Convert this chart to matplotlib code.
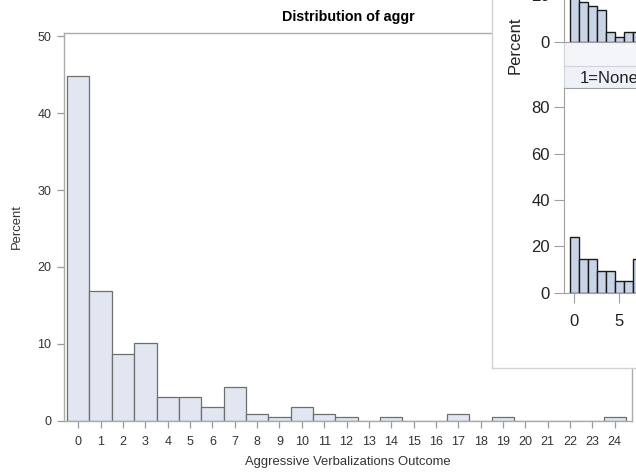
import matplotlib
matplotlib.use("Agg")
import matplotlib.pyplot as plt

plt.rcParams['font.family'] = ['Liberation Sans', 'DejaVu Sans']

# ---------------- data ----------------
aggr_values = list(range(25))
aggr_percent = [44.8, 16.9, 8.7, 10.1, 3.0, 3.0, 1.7, 4.4, 0.9, 0.4,
                1.7, 0.9, 0.4, 0.0, 0.4, 0.0, 0.0, 0.9, 0.0, 0.4,
                0.0, 0.0, 0.0, 0.0, 0.4]
x_tick_labels = [str(v) for v in aggr_values]
y_ticks_main = [0, 10, 20, 30, 40, 50]

# overlapping window (panel histogram, partly visible)
panel_values = [0, 1, 2, 3, 4, 5, 6, 7]
panel_top_percent = [25.0, 17.1, 15.5, 13.8, 4.1, 1.9, 4.1, 4.1]
panel_bottom_percent = [24.2, 14.4, 14.4, 9.5, 9.5, 4.9, 4.9, 14.4]
panel_label = "1=None"

W, H = 636, 476
fig = plt.figure(figsize=(W / 100, H / 100), dpi=100)


def box(l, t, r, b):
    return [l / W, 1 - b / H, (r - l) / W, (b - t) / H]


# ---------------- main chart ----------------
ax = fig.add_axes(box(64, 32.5, 632, 420.5))
ax.set_zorder(0)
ax.bar(aggr_values, aggr_percent, width=1.0, color='#E1E6F0',
       edgecolor='#6E6E6E', linewidth=0.9)
ax.set_xlim(-0.64, 24.77)
ax.set_ylim(0, 50.5)
ax.set_xticks(aggr_values)
ax.set_xticklabels(x_tick_labels)
ax.set_yticks(y_ticks_main)
for s in ax.spines.values():
    s.set_color('#ABABAB')
    s.set_linewidth(1.0)
ax.tick_params(axis='both', colors='#9A9A9A', length=5, width=0.9,
               labelcolor='#333333', labelsize=9)
ax.tick_params(axis='x', pad=6)
ax.tick_params(axis='y', pad=4)
ax.set_title('Distribution of aggr', fontsize=10.3, fontweight='bold', pad=8)
ax.set_xlabel('Aggressive Verbalizations Outcome', fontsize=9.4,
              color='#333333', labelpad=6)
ax.set_ylabel('Percent', fontsize=9.4, color='#333333')
ax.yaxis.set_label_coords((23 - 64) / 568, 0.5)

# ---------------- overlapping window ----------------
ov = fig.add_axes(box(491.5, -10, 660, 368))
ov.set_zorder(5)
ov.set_facecolor('white')
ov.set_xticks([])
ov.set_yticks([])
for k in ['top', 'right']:
    ov.spines[k].set_visible(False)
for k in ['left', 'bottom']:
    ov.spines[k].set_color('#D2D2D2')
    ov.spines[k].set_linewidth(1.0)

# gray band and strip header
band = fig.add_axes(box(564, 41.7, 660, 65.7))
band.set_zorder(6)
band.set_facecolor('#F3F5F9')
band.set_xticks([]); band.set_yticks([])
for s in band.spines.values():
    s.set_color('#D0D4DA')

strip = fig.add_axes(box(564, 65.7, 660, 88.3))
strip.set_zorder(6)
strip.set_facecolor('#EEF2F8')
strip.set_xticks([]); strip.set_yticks([])
for s in strip.spines.values():
    s.set_color('#D0D4DA')
strip.text(16 / 96, 0.45, panel_label, transform=strip.transAxes,
           ha='left', va='center', fontsize=12, color='#222222')

px_per_unit = 9.0
x0_pix = 574.3
y_scale = 2.3175

# upper panel
up_left, up_right, up_bottom, up_top = 564, 700, 41.7, -20
au = fig.add_axes(box(up_left, up_top, up_right, up_bottom))
au.set_zorder(7)
au.bar(panel_values, panel_top_percent, width=1.0, color='#C9D4E6',
       edgecolor='#1A1A1A', linewidth=1.0)
au.set_xlim((up_left - x0_pix) / px_per_unit, (up_right - x0_pix) / px_per_unit)
au.set_ylim(0, (up_bottom - up_top) / y_scale)
au.set_yticks([0, 20])
au.set_xticks([])
for k in ['top', 'right']:
    au.spines[k].set_visible(False)
for k in ['left', 'bottom']:
    au.spines[k].set_color('#A0A0A0')
au.tick_params(axis='y', colors='#A0A0A0', length=7, labelcolor='#222222',
               labelsize=12, pad=3)
au.patch.set_alpha(0)

# lower panel
lo_left, lo_right, lo_top, lo_bottom = 564, 700, 88.3, 292.7
al = fig.add_axes(box(lo_left, lo_top, lo_right, lo_bottom))
al.set_zorder(7)
al.bar(panel_values, panel_bottom_percent, width=1.0, color='#C9D4E6',
       edgecolor='#1A1A1A', linewidth=1.0)
al.set_xlim((lo_left - x0_pix) / px_per_unit, (lo_right - x0_pix) / px_per_unit)
al.set_ylim(0, (lo_bottom - lo_top) / y_scale)
al.set_yticks([0, 20, 40, 60, 80])
al.set_xticks([0, 5, 10])
al.spines['right'].set_visible(False)
for k in ['left', 'bottom', 'top']:
    al.spines[k].set_color('#A0A0A0')
al.tick_params(axis='both', colors='#A0A0A0', length=7, labelcolor='#222222',
               labelsize=12, pad=3)
al.tick_params(axis='x', pad=8)
al.patch.set_facecolor('white')

fig.text(515 / W, 1 - 45 / H, 'Percent', rotation=90, ha='center',
         va='center', fontsize=12, color='#222222', zorder=10)

fig.savefig('out.png', dpi=100)
